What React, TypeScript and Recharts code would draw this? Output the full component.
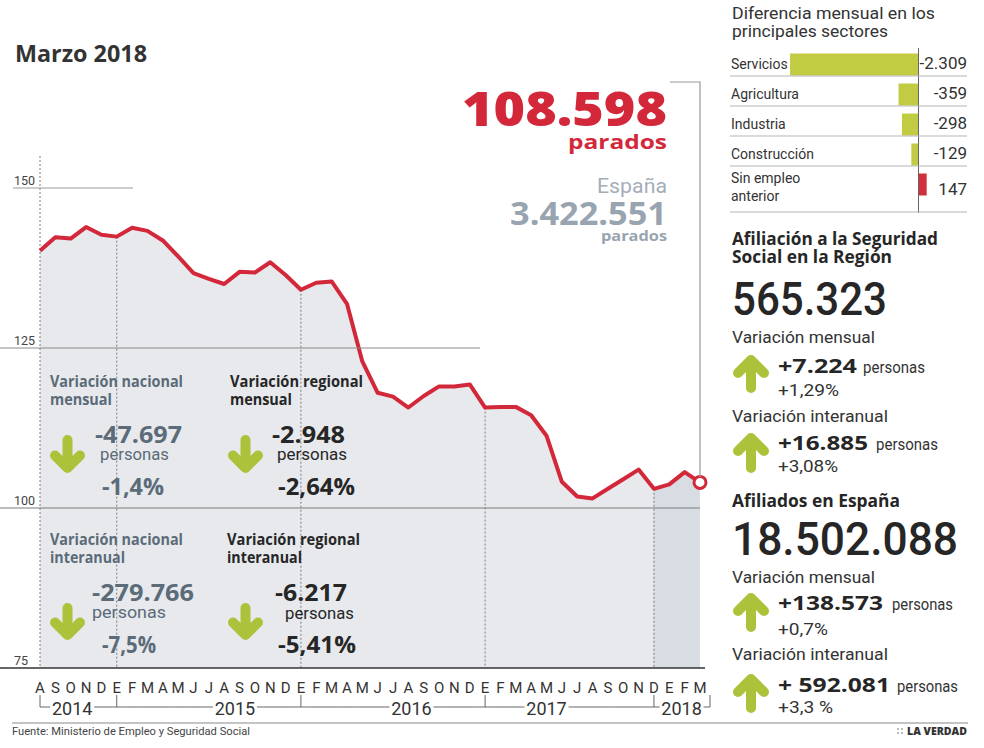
import React from 'react';
import { ComposedChart, Area, Line, XAxis, YAxis, ReferenceLine, BarChart, Bar, Cell } from 'recharts';

// ---------- DATA ----------
const monthLetters = ['A','S','O','N','D','E','F','M','A','M','J','J','A','S','O','N','D','E','F','M','A','M','J','J','A','S','O','N','D','E','F','M','A','M','J','J','A','S','O','N','D','E','F','M'];
const paroMiles = [140.2,142.3,142.1,143.9,142.7,142.4,143.8,143.3,141.8,139.3,136.7,135.8,135.0,136.9,136.8,138.4,136.4,134.1,135.2,135.4,131.9,122.9,118.0,117.4,115.7,117.5,119.0,119.0,119.3,115.7,115.8,115.8,114.5,111.3,104.1,101.8,101.5,103.0,104.5,106.0,103.0,103.7,105.6,104.0];
const yearLabels = ['2014','2015','2016','2017','2018'];
const yearStartIdx = [0,5,17,29,40];
const shadeFromIdx = 40;
const yTicks = [75,100,125,150];

const sectorNames = ['Servicios','Agricultura','Industria','Construcción','Sin empleo anterior'];
const sectorDiff = [-2309,-359,-298,-129,147];

// ---------- LAYOUT / STYLE ----------
const W = 984, H = 748;
const PLOT_L = 40, PLOT_R = 700, PLOT_B = 668;
const Y_MIN = 75, Y_MAX = 155;
const yearLabelPos = [2.1, 12.7, 24.2, 33, 41.8];
const gridSpan: Record<number, [number, number, string, number]> = {
  150: [13, 133, '#9a9a9a', 1],
  125: [0, 480, '#8a8a8a', 1],
  100: [0, 700, '#7a7a7a', 1],
  75: [0, 705, '#333', 1.6],
};
const RED = '#d3283a';
const DARK = '#262626';
const SLATE = '#5b6b78';
const GREY_BLUE = '#98a4b0';
const ARROW_GREEN = '#adc23b';
const BAR_GREEN = '#c2cc43';
const BOLD = "'Open Sans', 'Noto Sans', sans-serif";
const REG = "Roboto, 'Noto Sans', sans-serif";

const n = monthLetters.length;
const step = (PLOT_R - PLOT_L) / (n - 1);
const GAP = 22;
const END_EXT = 10;

const data = monthLetters.map((m, i) => ({
  id: String(i),
  m,
  v: paroMiles[i],
  shade: i >= shadeFromIdx ? paroMiles[i] : null,
}));

const sectorData = sectorNames.map((name, i) => ({ name, value: sectorDiff[i] }));

function fmtEs(v: number) {
  const s = Math.abs(v).toString().replace(/\B(?=(\d{3})+(?!\d))/g, '.');
  return (v < 0 ? '-' : '') + s;
}

function MonthTick(props: any) {
  const { x, payload } = props;
  const i = Number(payload.value);
  const lo = i === 0 ? 0 : i - 0.5;
  const hi = i === n - 1 ? i + END_EXT / step : i + 0.5;
  let pieces: [number, number][] = [[lo, hi]];
  yearLabelPos.forEach((p) => {
    const a = p - GAP / step, b = p + GAP / step;
    pieces = pieces.flatMap(([s, e]) => {
      if (b <= s || a >= e) return [[s, e] as [number, number]];
      const out: [number, number][] = [];
      if (a > s) out.push([s, a]);
      if (b < e) out.push([b, e]);
      return out;
    });
  });
  const lineY = PLOT_B + 39;
  return (
    <g>
      <text x={x} y={PLOT_B + 25} textAnchor="middle" fontSize={15} fontFamily={REG} fill="#333">{monthLetters[i]}</text>
      {pieces.map(([s, e], k) => (
        <line key={k} x1={x + (s - i) * step} x2={x + (e - i) * step} y1={lineY} y2={lineY} stroke="#666" strokeWidth={1} />
      ))}
      {yearStartIdx.includes(i) && <line x1={x} x2={x} y1={PLOT_B + 27} y2={lineY} stroke="#666" strokeWidth={1} />}
      {i === n - 1 && <line x1={x + END_EXT} x2={x + END_EXT} y1={PLOT_B + 27} y2={lineY} stroke="#666" strokeWidth={1} />}
      {yearLabelPos.map((p, k) =>
        Math.floor(p) === i ? (
          <text key={'y' + k} x={x + (p - i) * step} y={PLOT_B + 47} textAnchor="middle" fontSize={18} fontFamily={REG} fill="#333">{yearLabels[k]}</text>
        ) : null
      )}
    </g>
  );
}

function ValueTick(props: any) {
  const { y, payload } = props;
  const v = Number(payload.value);
  const g = gridSpan[v];
  return (
    <g>
      {g && <line x1={g[0]} x2={g[1]} y1={y} y2={y} stroke={g[2]} strokeWidth={g[3]} />}
      <text x={14} y={y - 3} fontSize={12.5} fontFamily={REG} fill="#444">{v}</text>
    </g>
  );
}

function SectorTick(props: any) {
  const { y, payload } = props;
  const i = sectorNames.indexOf(payload.value);
  const name = sectorNames[i];
  const words = name.split(' ');
  const lines = words.length > 1 ? [words.slice(0, -1).join(' '), words[words.length - 1]] : [name];
  const last = i === sectorNames.length - 1;
  return (
    <g>
      {lines.length === 1 ? (
        <text x={11} y={y + 4.5} fontSize={14} fontFamily={REG} fill="#333">{lines[0]}</text>
      ) : (
        <>
          <text x={11} y={y - 2} fontSize={14} fontFamily={REG} fill="#333">{lines[0]}</text>
          <text x={11} y={y + 16} fontSize={14} fontFamily={REG} fill="#333">{lines[1]}</text>
        </>
      )}
      <text x={247} y={y + (last ? 10.5 : 4.5)} textAnchor="end" fontSize={17} fontFamily={REG} fill="#333">{fmtEs(sectorDiff[i])}</text>
      <line x1={10} x2={247} y1={y + (last ? 27.5 : 11.5)} y2={y + (last ? 27.5 : 11.5)} stroke="#b5b5b5" strokeWidth={1} />
    </g>
  );
}

function T(p: any) {
  const { x, y, s, fw = 400, c = DARK, a = 'start', f, len, children } = p;
  return (
    <text x={x} y={y} fontSize={s} fontWeight={fw} fill={c} textAnchor={a}
      fontFamily={f || (fw >= 600 ? BOLD : REG)}
      textLength={len} lengthAdjust={len ? 'spacingAndGlyphs' : undefined}>{children}</text>
  );
}

function Arrow({ x, y, w = 35, h = 38, dir = 'down' }: any) {
  const sw = 10;
  const cx = x + w / 2;
  const arm = w / 2 - sw / 2;
  let d: string;
  if (dir === 'down') {
    const tip = y + h - sw / 2;
    d = `M${cx},${y + sw / 2} L${cx},${tip} M${x + sw / 2},${tip - arm} L${cx},${tip} L${x + w - sw / 2},${tip - arm}`;
  } else {
    const tip = y + sw / 2;
    d = `M${cx},${y + h - sw / 2} L${cx},${tip} M${x + sw / 2},${tip + arm} L${cx},${tip} L${x + w - sw / 2},${tip + arm}`;
  }
  return <path d={d} stroke={ARROW_GREEN} strokeWidth={sw} strokeLinecap="round" strokeLinejoin="round" fill="none" />;
}

const renderDot = (p: any) => {
  if (p.index === n - 1) {
    return <circle key={'d' + p.index} cx={p.cx} cy={p.cy} r={6} fill="#fff" stroke={RED} strokeWidth={3} />;
  }
  return <g key={'d' + p.index} />;
};

export default function App() {
  return (
    <div style={{ position: 'absolute', left: 0, top: 0, width: W, height: H, background: '#fff', overflow: 'hidden' }}>
      <div style={{ position: 'absolute', left: 0, top: 0 }}>
        <ComposedChart width={W} height={H} data={data} margin={{ top: 156, right: W - PLOT_R, bottom: 20, left: 0 }}>
          <Area dataKey="v" type="linear" fill="#e7e9ed" fillOpacity={1} stroke="none" isAnimationActive={false} />
          <Area dataKey="shade" type="linear" fill="#d8dce3" fillOpacity={1} stroke="none" isAnimationActive={false} />
          <XAxis dataKey="id" type="category" scale="point" interval={0} height={60} axisLine={false} tickLine={false} tick={(p: any) => <MonthTick {...p} />} />
          <YAxis type="number" domain={[Y_MIN, Y_MAX]} ticks={yTicks} interval={0} width={PLOT_L} axisLine={false} tickLine={false} tick={(p: any) => <ValueTick {...p} />} />
          {yearStartIdx.map((i, k) => (
            <ReferenceLine key={k} segment={[{ x: String(i), y: k === 0 ? Y_MAX : paroMiles[i] }, { x: String(i), y: Y_MIN }]}
              stroke="#7d7d7d" strokeDasharray="2 2" strokeWidth={1} ifOverflow="visible" />
          ))}
          <Line dataKey="v" type="linear" stroke={RED} strokeWidth={4} strokeLinejoin="round" dot={renderDot} activeDot={false} isAnimationActive={false} />
        </ComposedChart>
      </div>

      <div style={{ position: 'absolute', left: 720, top: 0 }}>
        <BarChart width={264} height={230} data={sectorData} layout="vertical" margin={{ top: 49.5, right: 21, bottom: 30.5, left: 0 }}>
          <XAxis type="number" domain={[-2400, 800]} hide />
          <YAxis type="category" dataKey="name" width={65} axisLine={false} tickLine={false} interval={0} tick={(p: any) => <SectorTick {...p} />} />
          <Bar dataKey="value" barSize={22} isAnimationActive={false}>
            {sectorData.map((d, i) => <Cell key={i} fill={d.value < 0 ? BAR_GREEN : '#d12f3b'} />)}
          </Bar>
          <ReferenceLine x={0} ifOverflow="visible" shape={(p: any) => {
            const top = Math.min(p.y1, p.y2), bot = Math.max(p.y1, p.y2);
            return <line x1={p.x1} x2={p.x2} y1={top - 1.5} y2={bot + 13.5} stroke="#666" strokeWidth={1} />;
          }} />
        </BarChart>
      </div>

      <svg width={W} height={H} style={{ position: 'absolute', left: 0, top: 0, pointerEvents: 'none' }}>
        <T x={15} y={62} s={23} fw={700} c="#333" len={132}>Marzo 2018</T>
        <T x={667} y={126} s={47} fw={800} c={RED} a="end" len={205}>108.598</T>
        <T x={667} y={149} s={20} fw={700} c={RED} a="end" len={99}>parados</T>
        <T x={667} y={193} s={20} c="#a3aeb9" a="end" len={70}>España</T>
        <T x={667} y={225} s={32} fw={700} c={GREY_BLUE} a="end" len={157}>3.422.551</T>
        <T x={667} y={241} s={15} fw={700} c={GREY_BLUE} a="end" len={66}>parados</T>
        <path d="M670,82 H700 V477" stroke="#9a9a9a" strokeWidth={1.2} fill="none" />

        {/* panels */}
        <T x={50} y={387} s={15.5} fw={700} c={SLATE} len={133}>Variación nacional</T>
        <T x={50} y={405} s={15.5} fw={700} c={SLATE} len={62}>mensual</T>
        <Arrow x={50} y={435} dir="down" />
        <T x={95} y={443} s={24} fw={700} c={SLATE} len={87}>-47.697</T>
        <T x={100} y={460} s={17} c={SLATE} len={69}>personas</T>
        <T x={102} y={495} s={23} fw={700} c={SLATE} len={62}>-1,4%</T>

        <T x={230} y={387} s={15.5} fw={700} c={DARK} len={133}>Variación regional</T>
        <T x={230} y={405} s={15.5} fw={700} c={DARK} len={62}>mensual</T>
        <Arrow x={228} y={435} dir="down" />
        <T x={272} y={443} s={24} fw={700} c={DARK} len={73}>-2.948</T>
        <T x={277} y={460} s={17} c={DARK} len={70}>personas</T>
        <T x={278} y={495} s={23} fw={700} c={DARK} len={77}>-2,64%</T>

        <T x={50} y={545} s={15.5} fw={700} c={SLATE} len={133}>Variación nacional</T>
        <T x={50} y={563} s={15.5} fw={700} c={SLATE} len={75}>interanual</T>
        <Arrow x={50} y={603} h={37} dir="down" />
        <T x={92} y={601} s={24} fw={700} c={SLATE} len={102}>-279.766</T>
        <T x={92} y={618} s={17} c={SLATE} len={74}>personas</T>
        <T x={102} y={653} s={23} fw={700} c={SLATE} len={54}>-7,5%</T>

        <T x={227} y={545} s={15.5} fw={700} c={DARK} len={133}>Variación regional</T>
        <T x={227} y={563} s={15.5} fw={700} c={DARK} len={75}>interanual</T>
        <Arrow x={228} y={603} h={37} dir="down" />
        <T x={275} y={601} s={24} fw={700} c={DARK} len={72}>-6.217</T>
        <T x={285} y={619} s={17} c={DARK} len={69}>personas</T>
        <T x={278} y={653} s={23} fw={700} c={DARK} len={78}>-5,41%</T>

        {/* right column */}
        <T x={732} y={19} s={17} c="#333" len={203}>Diferencia mensual en los</T>
        <T x={732} y={37} s={17} c="#333" len={156}>principales sectores</T>

        <T x={732} y={245} s={18} fw={700} len={206}>Afiliación a la Seguridad</T>
        <T x={732} y={263} s={18} fw={700} len={160}>Social en la Región</T>
        <T x={732} y={315} s={46} fw={500} len={155}>565.323</T>
        <T x={732} y={343} s={17} c="#333" len={143}>Variación mensual</T>
        <Arrow x={733} y={355} w={36} h={38} dir="up" />
        <T x={778} y={373} s={20} fw={700} len={79}>+7.224</T>
        <T x={863} y={373} s={16} c="#333" len={62}>personas</T>
        <T x={778} y={396} s={16} c="#333" len={61}>+1,29%</T>
        <T x={732} y={422} s={17} c="#333" len={156}>Variación interanual</T>
        <Arrow x={733} y={433} w={36} h={40} dir="up" />
        <T x={778} y={450} s={20} fw={700} len={90}>+16.885</T>
        <T x={876} y={450} s={16} c="#333" len={62}>personas</T>
        <T x={778} y={472} s={16} c="#333" len={60}>+3,08%</T>

        <T x={732} y={507} s={18} fw={700} len={168}>Afiliados en España</T>
        <T x={732} y={555} s={46} fw={500} len={226}>18.502.088</T>
        <T x={732} y={583} s={17} c="#333" len={143}>Variación mensual</T>
        <Arrow x={733} y={593} w={36} h={39} dir="up" />
        <T x={778} y={610} s={20} fw={700} len={105}>+138.573</T>
        <T x={892} y={610} s={16} c="#333" len={61}>personas</T>
        <T x={778} y={635} s={16} c="#333" len={50}>+0,7%</T>
        <T x={732} y={660} s={17} c="#333" len={156}>Variación interanual</T>
        <Arrow x={733} y={674} w={36} h={39} dir="up" />
        <T x={778} y={692} s={20} fw={700} len={112}>+ 592.081</T>
        <T x={897} y={692} s={16} c="#333" len={61}>personas</T>
        <T x={778} y={713} s={16} c="#333" len={55}>+3,3 %</T>

        {/* footer */}
        <line x1={12} x2={968} y1={723} y2={723} stroke="#c4c4c4" strokeWidth={2} />
        <T x={12} y={735} s={11} c="#444" len={238}>Fuente: Ministerio de Empleo y Seguridad Social</T>
        <circle cx={898} cy={729} r={0.9} fill="#999" />
        <circle cx={898} cy={733} r={0.9} fill="#999" />
        <circle cx={902} cy={729} r={0.9} fill="#999" />
        <circle cx={902} cy={733} r={0.9} fill="#999" />
        <T x={967} y={735} s={11} fw={800} c="#333" a="end" len={60}>LA VERDAD</T>
      </svg>
    </div>
  );
}
